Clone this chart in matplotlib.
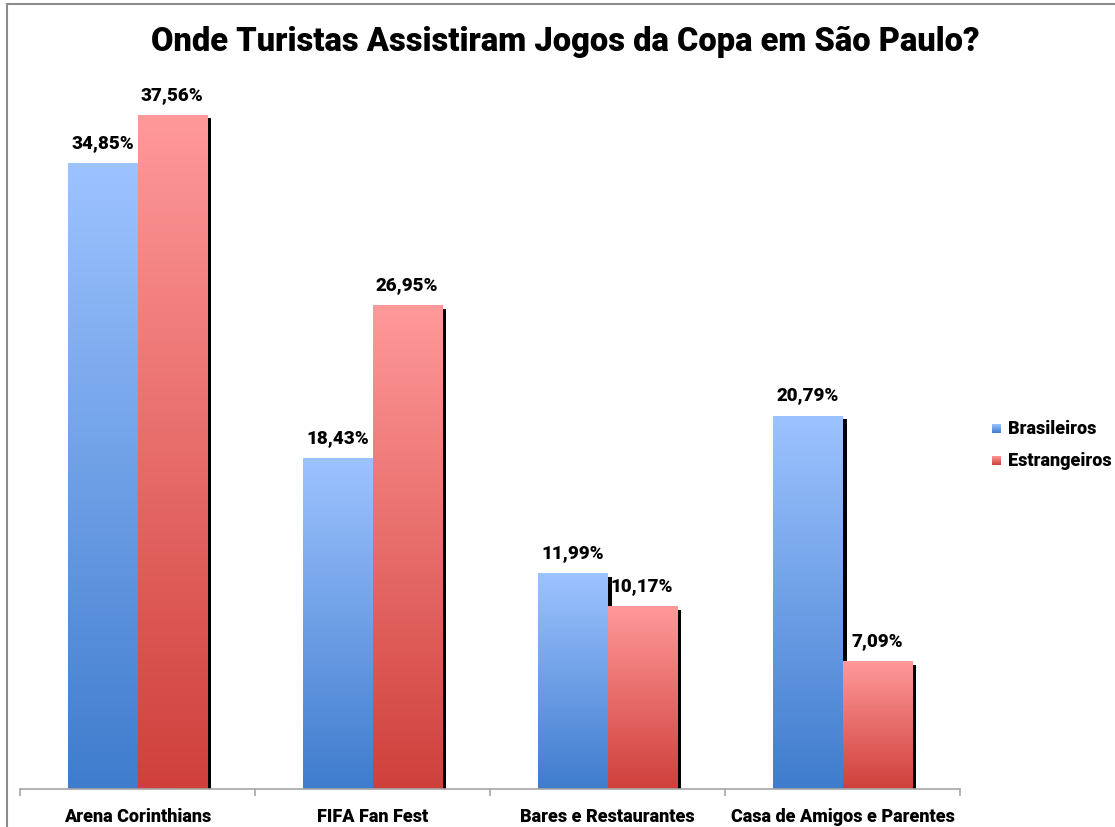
import numpy as np
import matplotlib
matplotlib.use('Agg')
import matplotlib.pyplot as plt
from matplotlib.patches import Rectangle
from matplotlib.colors import LinearSegmentedColormap
import matplotlib.transforms as mtransforms

## Data
categorias = ['Arena Corinthians', 'FIFA Fan Fest', 'Bares e Restaurantes', 'Casa de Amigos e Parentes']
brasileiros = [34.85, 18.43, 11.99, 20.79]
estrangeiros = [37.56, 26.95, 10.17, 7.09]
series = ['Brasileiros', 'Estrangeiros']
titulo = 'Onde Turistas Assistiram Jogos da Copa em São Paulo?'

FONT = ['Roboto', 'DejaVu Sans']
W, H = 1115, 828

## gradient colours (top -> bottom)
blue_cm = LinearSegmentedColormap.from_list('b', ['#9DC3FF', '#3F7CCD'])
red_cm = LinearSegmentedColormap.from_list('r', ['#FF9999', '#CF403B'])

fig = plt.figure(figsize=(W / 100, H / 100), dpi=100)
ax = fig.add_axes([20 / W, 1 - 790 / H, 940 / W, (790 - 72.4) / H])

bw = 0.295
grad = np.linspace(0, 1, 256).reshape(-1, 1)
shadow_tr = mtransforms.offset_copy(ax.transData, fig=fig, x=4, y=-3, units='dots')

for i in range(len(categorias)):
    for vals, cm, dx in ((brasileiros, blue_cm, -bw), (estrangeiros, red_cm, 0)):
        v = vals[i]
        x0 = i + dx
        ## black drop shadow
        ax.add_patch(Rectangle((x0, 0), bw, v, facecolor='black', edgecolor='none',
                               transform=shadow_tr, zorder=1))
        ## gradient bar, light at the top
        ax.imshow(grad, cmap=cm, extent=(x0, x0 + bw, 0, v), origin='upper',
                  aspect='auto', zorder=2, interpolation='bilinear')
        ax.annotate(f'{v:.2f}%'.replace('.', ','), (x0 + bw / 2, v),
                    xytext=(0, 9), textcoords='offset points', ha='center', va='bottom',
                    fontsize=13.5, fontweight='black', family=FONT, zorder=3)

ax.set_xlim(-0.5, len(categorias) - 0.5)
ax.set_ylim(0, 40)
for s in ['top', 'right', 'left']:
    ax.spines[s].set_visible(False)
ax.spines['bottom'].set_color('#A6A6A6')
ax.spines['bottom'].set_linewidth(1.2)
ax.set_yticks([])
ax.set_xticks(np.arange(len(categorias) + 1) - 0.5)
ax.set_xticklabels([])
ax.tick_params(axis='x', which='major', length=5, color='#A6A6A6', width=1.2)
ax.set_xticks(np.arange(len(categorias)), minor=True)
ax.set_xticklabels(categorias, minor=True, fontsize=13, fontweight='black', family=FONT)
ax.tick_params(axis='x', which='minor', length=0, pad=13)

fig.text(565 / W, 1 - 42 / H, titulo, ha='center', va='center', fontsize=23.5,
         fontweight='black', family=FONT)

## legend
for k, (nome, cm) in enumerate(zip(series, (blue_cm, red_cm))):
    yc = 429 + 32 * k
    lax = fig.add_axes([992 / W, 1 - (yc + 5) / H, 9 / W, 9 / H])
    lax.imshow(grad, cmap=cm, aspect='auto')
    lax.axis('off')
    fig.text(1008 / W, 1 - yc / H, nome, ha='left', va='center', fontsize=13,
             fontweight='black', family=FONT)

## outer chart border
fig.add_artist(Rectangle((7 / W, -0.1), 1.2, 1 - 5 / H + 0.1, transform=fig.transFigure,
                         fill=False, edgecolor='#8C8C8C', linewidth=1.5))

fig.savefig('out.png', dpi=100)
